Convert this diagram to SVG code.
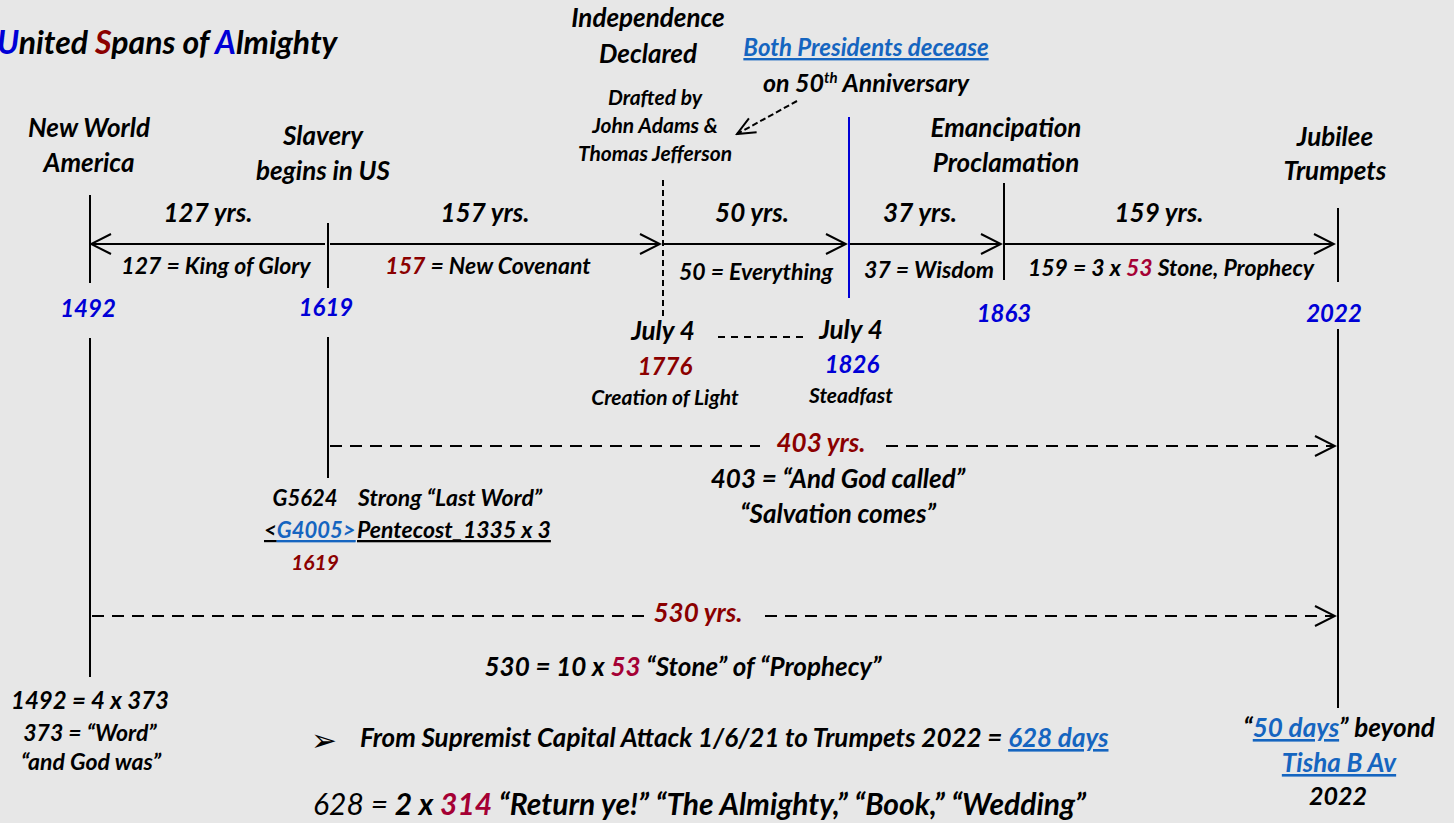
<svg xmlns="http://www.w3.org/2000/svg" width="1454" height="823" viewBox="0 0 1454 823">
<defs>
<style>
.t{font-family:Lato,"Open Sans","Liberation Sans",sans-serif;font-weight:700;font-style:italic;fill:#000}
.m{font-size:26px;text-anchor:middle}
.u{font-size:23px;text-anchor:middle}
.s{font-size:21px;text-anchor:middle}
.yr{font-size:24px;text-anchor:middle;fill:#0000d6}
.red{fill:#8b0000}
.crim{fill:#a50034}
.blue{fill:#0000d6}
.link{fill:#1565c0;text-decoration:underline}
.ln{stroke:#000;stroke-width:2;fill:none}
.dash{stroke:#000;stroke-width:2;fill:none;stroke-dasharray:12 8}
</style>
<marker id="ah" markerUnits="userSpaceOnUse" markerWidth="24" markerHeight="24" viewBox="-22 -12 24 24" refX="0" refY="0" orient="auto-start-reverse">
<path d="M-20,-10 L0,0 L-20,10" fill="none" stroke="#000" stroke-width="2"/>
</marker>
<marker id="ahs" markerUnits="userSpaceOnUse" markerWidth="24" markerHeight="24" viewBox="-22 -12 24 24" refX="0" refY="0" orient="auto">
<path d="M-18,-8 L0,0 L-18,8" fill="none" stroke="#000" stroke-width="2"/>
</marker>
</defs>
<rect width="1454" height="823" fill="#e7e7e7"/>

<g id="title">
<text class="t" x="-3" y="54" font-size="32"><tspan class="blue">U</tspan>nited <tspan class="red">S</tspan>pans of <tspan class="blue">A</tspan>lmighty</text>
</g>

<g id="node-1492">
<line class="ln" x1="90" y1="195" x2="90" y2="283"/>
<line class="ln" x1="90" y1="338" x2="90" y2="677"/>
<text class="t m" x="89" y="137">New World</text>
<text class="t m" x="89" y="172">America</text>
<text class="t yr" x="88" y="317">1492</text>
<text class="t" x="90" y="709" font-size="24" text-anchor="middle">1492 = 4 x 373</text>
<text class="t" x="90" y="741" font-size="23" text-anchor="middle">373 = “Word”</text>
<text class="t" x="91" y="770" font-size="23" text-anchor="middle">“and God was”</text>
</g>

<g id="node-1619">
<line class="ln" x1="328" y1="223" x2="328" y2="288"/>
<line class="ln" x1="328" y1="337" x2="328" y2="478"/>
<text class="t m" x="323" y="145">Slavery</text>
<text class="t m" x="323" y="180">begins in US</text>
<text class="t yr" x="326" y="316">1619</text>
<text class="t" x="305" y="506" font-size="22" text-anchor="middle">G5624</text>
<text class="t" x="358" y="506" font-size="23">Strong “Last Word”</text>
<text class="t" x="264" y="538" font-size="22" text-decoration="underline">&lt;<tspan class="link">G4005&gt;</tspan></text>
<text class="t" x="357" y="538" font-size="23" text-decoration="underline">Pentecost_1335 x 3</text>
<text class="t red" x="315" y="570" font-size="21" text-anchor="middle">1619</text>
</g>

<g id="node-1776">
<line class="ln" x1="663" y1="180" x2="663" y2="320" stroke-dasharray="6 4"/>
<text class="t m" x="648" y="27">Independence</text>
<text class="t m" x="648" y="63">Declared</text>
<text class="t s" x="655" y="105">Drafted by</text>
<text class="t s" x="655" y="133">John Adams &amp;</text>
<text class="t s" x="655" y="161">Thomas Jefferson</text>
<text class="t m" x="663" y="340">July 4</text>
<text class="t yr red" x="665" y="375">1776</text>
<text class="t s" x="665" y="405">Creation of Light</text>
</g>

<g id="node-1826">
<line x1="849" y1="117" x2="849" y2="298" stroke="#0000d6" stroke-width="2"/>
<text class="t link" x="866" y="56" font-size="24" text-anchor="middle">Both Presidents decease</text>
<text class="t" x="866" y="92" font-size="25" text-anchor="middle">on 50<tspan font-size="15" dy="-9">th</tspan><tspan dy="9"> Anniversary</tspan></text>
<text class="t m" x="851" y="339">July 4</text>
<text class="t yr" x="852" y="373">1826</text>
<text class="t s" x="851" y="403">Steadfast</text>
</g>

<g id="node-1863">
<line class="ln" x1="1004" y1="183" x2="1004" y2="280"/>
<text class="t m" x="1006" y="137">Emancipation</text>
<text class="t m" x="1006" y="172">Proclamation</text>
<text class="t yr" x="1004" y="322">1863</text>
</g>

<g id="node-2022">
<line class="ln" x1="1338" y1="208" x2="1338" y2="282"/>
<line class="ln" x1="1338" y1="329" x2="1338" y2="708"/>
<text class="t m" x="1335" y="146">Jubilee</text>
<text class="t m" x="1335" y="180">Trumpets</text>
<text class="t yr" x="1334" y="322">2022</text>
<text class="t" x="1339" y="737" font-size="26" text-anchor="middle">“<tspan class="link">50 days</tspan>” beyond</text>
<text class="t link" x="1339" y="772" font-size="26" text-anchor="middle">Tisha B Av</text>
<text class="t" x="1338" y="805" font-size="25" text-anchor="middle">2022</text>
</g>

<g id="connectors">
<line class="ln" x1="91" y1="244" x2="325" y2="244" marker-start="url(#ah)"/>
<line class="ln" x1="330" y1="244" x2="660" y2="244" marker-end="url(#ah)"/>
<line class="ln" x1="664" y1="244" x2="846" y2="244" marker-end="url(#ah)"/>
<line class="ln" x1="850" y1="244" x2="1001" y2="244" marker-end="url(#ah)"/>
<line class="ln" x1="1005" y1="244" x2="1334" y2="244" marker-end="url(#ah)"/>
<line class="ln" x1="718" y1="337" x2="806" y2="337" stroke-dasharray="7 6"/>
<line class="dash" x1="330" y1="446" x2="760" y2="446"/>
<line class="dash" x1="886" y1="446" x2="1335" y2="446" marker-end="url(#ah)"/>
<line class="dash" x1="92" y1="616" x2="648" y2="616"/>
<line class="dash" x1="765" y1="616" x2="1335" y2="616" marker-end="url(#ah)"/>
<line class="ln" x1="797" y1="101" x2="737" y2="134" stroke-dasharray="6 3" marker-end="url(#ahs)"/>

<text class="t m" x="208" y="222">127 yrs.</text>
<text class="t m" x="485" y="222">157 yrs.</text>
<text class="t m" x="752" y="222">50 yrs.</text>
<text class="t m" x="920" y="222">37 yrs.</text>
<text class="t m" x="1159" y="222">159 yrs.</text>

<text class="t u" x="216" y="274">127 = King of Glory</text>
<text class="t u" x="488" y="274"><tspan class="red">157</tspan> = New Covenant</text>
<text class="t u" x="756" y="280">50 = Everything</text>
<text class="t u" x="929" y="278">37 = Wisdom</text>
<text class="t u" x="1171" y="276">159 = 3 x <tspan class="crim">53</tspan> Stone, Prophecy</text>

<text class="t m red" x="821" y="452">403 yrs.</text>
<text class="t m" x="838" y="488">403 = “And God called”</text>
<text class="t m" x="838" y="523">“Salvation comes”</text>

<text class="t m red" x="698" y="622">530 yrs.</text>
<text class="t m" x="683" y="676">530 = 10 x <tspan class="crim">53</tspan> “Stone” of “Prophecy”</text>
</g>

<g id="notes">
<text x="311" y="751" font-family="DejaVu Sans,sans-serif" font-size="31" fill="#000">➢</text>
<text class="t" x="360" y="747" font-size="26">From Supremist Capital Attack 1/6/21 to Trumpets 2022 = <tspan class="link">628 days</tspan></text>
<text class="t" x="313" y="815" font-size="30"><tspan font-weight="400">628 =</tspan> 2 x <tspan class="crim">314</tspan> “Return ye!” “The Almighty,” “Book,” “Wedding”</text>
</g>
</svg>
